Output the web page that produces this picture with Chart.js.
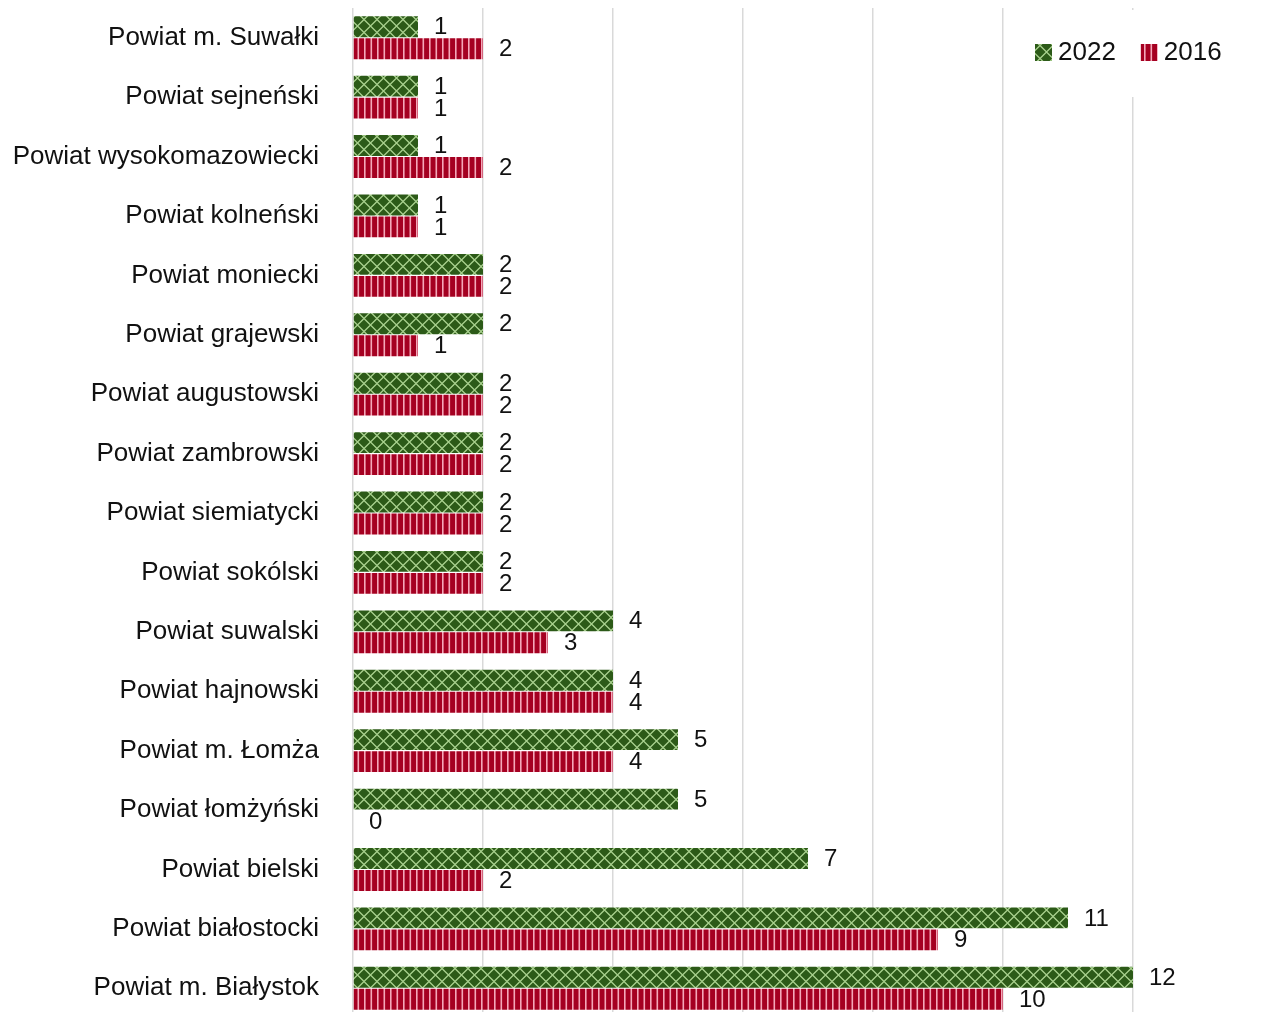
<!DOCTYPE html>
<html>
<head>
<meta charset="utf-8">
<script src="https://cdn.jsdelivr.net/npm/chart.js@4.4.1/dist/chart.umd.min.js"></script>
<style>
  html, body { margin: 0; padding: 0; background: #fff; overflow: hidden; }
  #wrap { width: 1263px; height: 1020px; }
</style>
</head>
<body>
<div id="wrap"><canvas id="myChart" width="1263" height="1020"></canvas></div>
<script>
const powiaty = [
    'Powiat m. Suwałki', 'Powiat sejneński', 'Powiat wysokomazowiecki', 'Powiat kolneński',
    'Powiat moniecki', 'Powiat grajewski', 'Powiat augustowski', 'Powiat zambrowski',
    'Powiat siemiatycki', 'Powiat sokólski', 'Powiat suwalski', 'Powiat hajnowski',
    'Powiat m. Łomża', 'Powiat łomżyński', 'Powiat bielski', 'Powiat białostocki',
    'Powiat m. Białystok'
];
const values2022 = [1, 1, 1, 1, 2, 2, 2, 2, 2, 2, 4, 4, 5, 5, 7, 11, 12];
const values2016 = [2, 1, 2, 1, 2, 1, 2, 2, 2, 2, 3, 4, 4, 0, 2, 9, 10];
const seriesLabels = ['2022', '2016'];

const FONT = '"Liberation Sans", Arial, sans-serif';
const TEXT = '#111';

// green with light diamond lattice
function greenPattern() {
    const c = document.createElement('canvas');
    c.width = 13; c.height = 13;
    const g = c.getContext('2d');
    g.fillStyle = '#2c5a18';
    g.fillRect(0, 0, 13, 13);
    g.strokeStyle = '#a9d18e';
    g.lineWidth = 1.3;
    g.beginPath();
    g.moveTo(0, 6.5); g.lineTo(6.5, 0); g.lineTo(13, 6.5); g.lineTo(6.5, 13); g.closePath();
    g.stroke();
    return g.createPattern(c, 'repeat');
}

// red with thin pink vertical stripes
function redPattern() {
    const c = document.createElement('canvas');
    c.width = 13; c.height = 4;
    const g = c.getContext('2d');
    g.fillStyle = '#a50021';
    g.fillRect(0, 0, 13, 4);
    g.fillStyle = '#f4a7b9';
    g.fillRect(0, 0, 1.6, 4);
    g.fillRect(6.5, 0, 1.6, 4);
    return g.createPattern(c, 'repeat');
}

const valueLabels = {
    id: 'valueLabels',
    afterDatasetsDraw(chart) {
        const ctx = chart.ctx;
        ctx.save();
        ctx.font = '24px ' + FONT;
        ctx.fillStyle = TEXT;
        ctx.textAlign = 'left';
        ctx.textBaseline = 'middle';
        chart.data.datasets.forEach((ds, i) => {
            chart.getDatasetMeta(i).data.forEach((bar, j) => {
                ctx.fillText(String(ds.data[j]), bar.x + 16, bar.y + 1);
            });
        });
        ctx.restore();
    }
};

const boxLegend = {
    id: 'boxLegend',
    afterDraw(chart) {
        const ctx = chart.ctx;
        ctx.save();
        ctx.fillStyle = '#fff';
        ctx.fillRect(1016, 10, 226, 87);
        ctx.font = '26px ' + FONT;
        ctx.textBaseline = 'middle';
        ctx.textAlign = 'left';
        let x = 1035;
        chart.data.datasets.forEach(ds => {
            ctx.fillStyle = ds.backgroundColor;
            ctx.fillRect(x, 44, 17, 17);
            ctx.fillStyle = TEXT;
            ctx.fillText(ds.label, x + 23, 53);
            x += 23 + ctx.measureText(ds.label).width + 25;
        });
        ctx.restore();
    }
};

const ctx = document.getElementById('myChart').getContext('2d');
new Chart(ctx, {
    type: 'bar',
    data: {
        labels: powiaty,
        datasets: [
            { label: seriesLabels[0], data: values2022, backgroundColor: greenPattern() },
            { label: seriesLabels[1], data: values2016, backgroundColor: redPattern() }
        ]
    },
    options: {
        indexAxis: 'y',
        responsive: false,
        animation: false,
        categoryPercentage: 0.74,
        barPercentage: 0.95,
        layout: { padding: { top: 8, bottom: 2, right: 130, left: 0 } },
        plugins: {
            legend: { display: false },
            tooltip: { enabled: false }
        },
        scales: {
            x: {
                min: 0,
                max: 12,
                ticks: { display: false, stepSize: 2 },
                grid: { color: '#d9d9d9', lineWidth: 1.5, drawTicks: false },
                border: { display: false },
                afterFit(scale) { scale.height = 0; }
            },
            y: {
                ticks: { color: TEXT, font: { family: FONT, size: 26 }, padding: 34 },
                grid: { display: false, drawTicks: false },
                border: { display: false },
                afterFit(scale) {
                    scale.width = 353;
                    scale.paddingTop = 0;
                    scale.paddingBottom = 0;
                }
            }
        }
    },
    plugins: [valueLabels, boxLegend]
});
</script>
</body>
</html>
